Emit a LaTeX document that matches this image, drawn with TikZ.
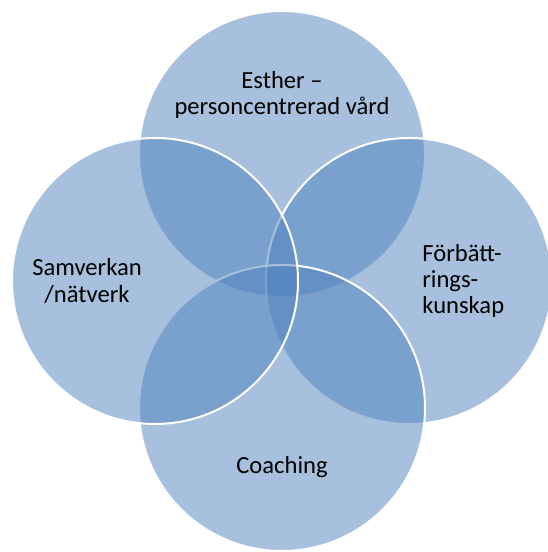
\documentclass[tikz,border=0pt]{standalone}
\usepackage{fontspec}
\setmainfont{Carlito}
\definecolor{vennblue}{RGB}{79,129,189}
\tikzset{
  venn/.style={circle, minimum size=5.72cm, inner sep=0pt, fill=vennblue,
    fill opacity=0.5, draw=white, draw opacity=1, line width=0.04cm},
  vennlabel/.style={font=\fontsize{14}{15}\selectfont, inner sep=0pt, text=black}
}
\usetikzlibrary{positioning}

\begin{document}
\begin{tikzpicture}
  \useasboundingbox (0,0) rectangle (10.94,11.04);
  \coordinate (mid) at (5.64,5.42);

  % circles, drawn top, right, bottom, left
  \node [venn] (esther) at (5.64,7.96) {};
  \node [venn] (forbattring) at (8.18,5.42) {};
  \node [venn] (coaching) at (5.64,2.88) {};
  \node [venn] (samverkan) at (3.10,5.42) {};

  \node [vennlabel, align=center] (esthertext) at (5.64,9.14) {Esther –\\personcentrerad vård};
  \node [vennlabel, align=center] (samverkantext) at (1.74,5.42) {Samverkan\\/nätverk};
  \node [vennlabel, align=left, anchor=west] (forbattringtext) at (8.44,5.42) {Förbätt-\\rings-\\kunskap};
  \node [vennlabel] (coachingtext) at (5.64,1.70) {Coaching};
\end{tikzpicture}
\end{document}
